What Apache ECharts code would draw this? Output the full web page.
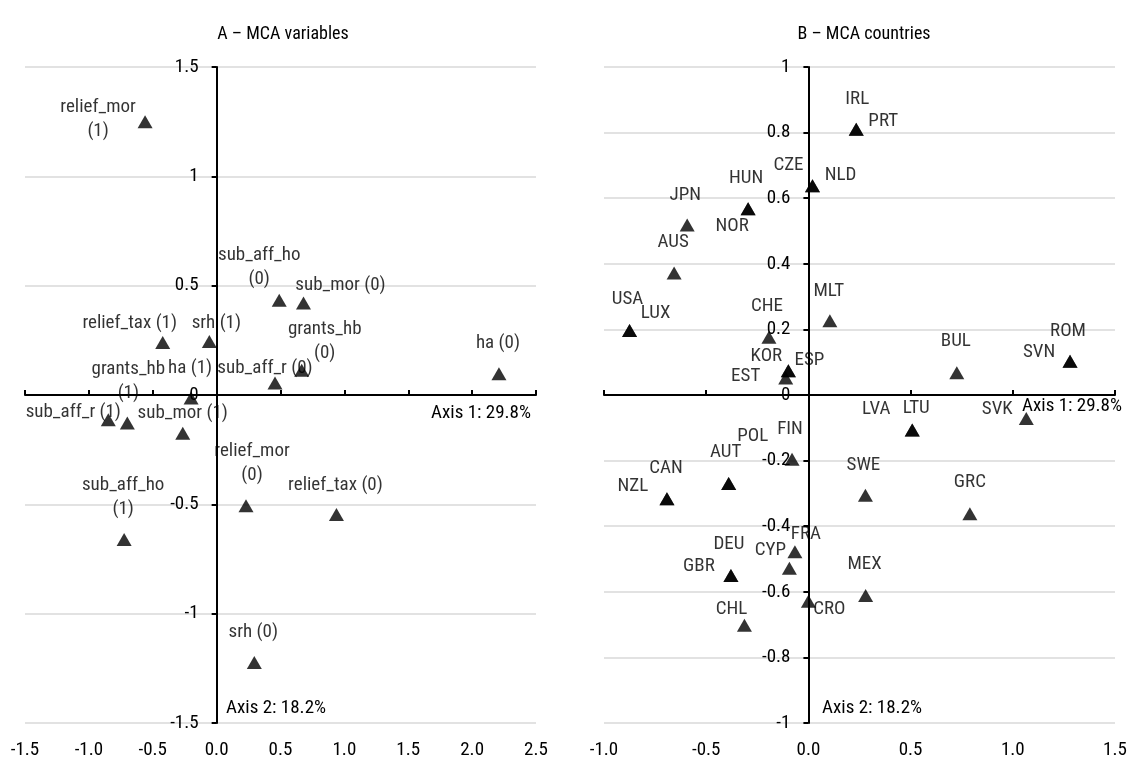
<!DOCTYPE html>
<html>
<head>
<meta charset="utf-8">
<script src="https://cdn.jsdelivr.net/npm/echarts@6/dist/echarts.min.js"></script>
<style>
html,body{margin:0;padding:0;background:#fff;}
#chart{width:1131px;height:758px;}
</style>
</head>
<body>
<div id="chart"></div>
<script>
// ---------- Panel A: MCA variables ----------
const varNames = ['relief_mor (1)','sub_aff_ho (0)','sub_mor (0)','srh (1)','relief_tax (1)','sub_aff_r (0)','grants_hb (0)','ha (0)','ha (1)','sub_aff_r (1)','grants_hb (1)','sub_mor (1)','relief_mor (0)','relief_tax (0)','sub_aff_ho (1)','srh (0)'];
const varAxis1 = [-0.56, 0.49, 0.68, -0.057, -0.422, 0.457, 0.666, 2.21, -0.2, -0.848, -0.699, -0.265, 0.23, 0.938, -0.724, 0.295];
const varAxis2 = [1.25, 0.433, 0.421, 0.245, 0.24, 0.055, 0.113, 0.097, -0.014, -0.113, -0.128, -0.175, -0.506, -0.547, -0.661, -1.223];

// ---------- Panel B: MCA countries ----------
const countryNames = ['IRL','PRT','CZE','NLD','HUN','NOR','JPN','AUS','USA','LUX','CHE','MLT','KOR','ESP','EST','BUL','ROM','SVN','SVK','LVA','LTU','FIN','POL','AUT','CAN','NZL','SWE','GRC','FRA','CYP','DEU','GBR','MEX','CRO','CHL'];
const countryAxis1 = [0.234, 0.234, 0.02, 0.02, -0.295, -0.295, -0.593, -0.657, -0.875, -0.875, -0.193, 0.105, -0.098, -0.098, -0.111, 0.726, 1.28, 1.28, 1.066, 0.508, 0.508, -0.08, -0.39, -0.39, -0.692, -0.692, 0.279, 0.79, -0.066, -0.093, -0.379, -0.379, 0.28, 0.0, -0.313];
const countryAxis2 = [0.81, 0.81, 0.638, 0.638, 0.568, 0.568, 0.518, 0.372, 0.197, 0.197, 0.176, 0.226, 0.074, 0.074, 0.052, 0.068, 0.103, 0.103, -0.072, -0.107, -0.107, -0.196, -0.27, -0.27, -0.316, -0.316, -0.306, -0.362, -0.478, -0.528, -0.55, -0.55, -0.611, -0.629, -0.702];

// ---------- Tick labels ----------
const xTicksA = ['-1.5','-1.0','-0.5','0.0','0.5','1.0','1.5','2.0','2.5'];
const yTicksA = ['-1.5','-1','-0.5','0','0.5','1','1.5'];
const xTicksB = ['-1.0','-0.5','0.0','0.5','1.0','1.5'];
const yTicksB = ['-1','-0.8','-0.6','-0.4','-0.2','0','0.2','0.4','0.6','0.8','1'];

const titles = ['A – MCA variables', 'B – MCA countries'];
const axis1Label = 'Axis 1: 29.8%';
const axis2Label = 'Axis 2: 18.2%';

// ---------- label placement (style) ----------
const varLabelOffset = {
  'relief_mor (1)': [-47,-2], 'sub_aff_ho (0)': [-20,-33], 'sub_mor (0)': [37,-18], 'srh (1)': [7,-18],
  'relief_tax (1)': [-33,-19], 'sub_aff_r (0)': [-10,-15], 'grants_hb (0)': [23,-29], 'ha (0)': [-1,-31],
  'ha (1)': [-1,-30], 'sub_aff_r (1)': [-35,-7], 'grants_hb (1)': [1,-42], 'sub_mor (1)': [0,-20],
  'relief_mor (0)': [6,-42], 'relief_tax (0)': [-1,-29], 'sub_aff_ho (1)': [-1,-42], 'srh (0)': [-1,-30]
};
const wrapped = ['relief_mor (1)','sub_aff_ho (0)','grants_hb (0)','grants_hb (1)','relief_mor (0)','sub_aff_ho (1)'];
const countryLabelOffset = {
  IRL:[1,-30], PRT:[27,-8], CZE:[-24,-20], NLD:[28,-10], HUN:[-2,-30], NOR:[-16,18], JPN:[-2,-30], AUS:[-1,-31],
  USA:[-2,-31], LUX:[26,-17], CHE:[-2,-31], MLT:[-1,-30], KOR:[-22,-14], ESP:[21,-10], EST:[-40,-2], BUL:[-1,-31],
  ROM:[-2,-30], SVN:[-31,-9], SVK:[-29,-9], LVA:[-36,-21], LTU:[4,-22], FIN:[-2,-30], POL:[24,-47], AUT:[-3,-31],
  CAN:[-1,-30], NZL:[-34,-12], SWE:[-2,-30], GRC:[0,-31], FRA:[11,-18], CYP:[-19,-18], DEU:[-2,-31], GBR:[-32,-9],
  MEX:[-1,-31], CRO:[21,8], CHL:[-13,-16]
};

const FONT = "'Roboto Condensed', 'Liberation Sans Narrow', 'Arial Narrow', Roboto, sans-serif";
const FSTYLE = 'condensed';
const FS = 19;
const FS_TITLE = 18;
const TXT = '#000';
const GRID_W = 511, GRID_H = 656;

function tickFmt(arr, min, step) {
  return function (v) { const i = Math.round((v - min) / step); return arr[i] !== undefined ? arr[i] : ''; };
}

const varData = varNames.map((n, i) => ({
  name: n, value: [varAxis1[i], varAxis2[i]],
  label: { offset: varLabelOffset[n] }
}));
const countryData = countryNames.map((n, i) => ({
  name: n, value: [countryAxis1[i], countryAxis2[i]],
  label: { offset: countryLabelOffset[n] }
}));

function zeroXAxis(gridIndex, min, max, step) {
  return {
    type: 'value', gridIndex, min, max, interval: step, position: 'bottom',
    axisLine: { onZero: true, lineStyle: { color: '#000', width: 2 } },
    axisTick: { show: true, inside: true, length: 5, lineStyle: { color: '#000', width: 2 } },
    axisLabel: { show: false }, splitLine: { show: false }
  };
}
function labelXAxis(gridIndex, min, max, step, arr) {
  return {
    type: 'value', gridIndex, min, max, interval: step, position: 'bottom',
    axisLine: { show: false, onZero: false }, axisTick: { show: false }, splitLine: { show: false },
    axisLabel: { show: true, margin: 18, fontFamily: FONT, fontStyle: FSTYLE, fontSize: FS, color: TXT, formatter: tickFmt(arr, min, step) }
  };
}
// y axis drawn through x = 0 of the matching x range
function yAxisDef(gridIndex, min, max, step, arr, xMin, xMax) {
  return {
    type: 'value', gridIndex, min, max, interval: step, position: 'left',
    offset: -((0 - xMin) / (xMax - xMin)) * GRID_W,
    axisLine: { show: true, onZero: false, lineStyle: { color: '#000', width: 2 } },
    axisTick: { show: true, inside: false, length: 5, lineStyle: { color: '#000', width: 2 } },
    axisLabel: { show: true, margin: 18, fontFamily: FONT, fontStyle: FSTYLE, fontSize: FS, color: TXT, formatter: tickFmt(arr, min, step) },
    splitLine: { show: true, lineStyle: { color: '#d9d9d9', width: 1.5 } }
  };
}

function scatter(xi, yi, data, isVar) {
  return {
    type: 'scatter', xAxisIndex: xi, yAxisIndex: yi, data,
    symbol: 'triangle', symbolSize: [15, 13],
    itemStyle: { color: '#000' },
    label: {
      show: true, position: 'inside', fontFamily: FONT, fontStyle: FSTYLE, fontSize: FS, color: TXT, lineHeight: 24,
      formatter: p => (isVar && wrapped.indexOf(p.name) >= 0) ? p.name.replace(' (', '\n(') : p.name
    },
    emphasis: { disabled: true }, silent: true, z: 5
  };
}

const chart = echarts.init(document.getElementById('chart'), null, { renderer: 'canvas' });
const tstyle = { fontFamily: FONT, fontStyle: FSTYLE, fontSize: FS_TITLE, fontWeight: 'normal', color: TXT };
const gfont = FSTYLE + ' ' + FS + 'px ' + FONT;
chart.setOption({
  animation: false,
  backgroundColor: '#fff',
  title: [
    { text: titles[0], left: 278, top: 20, textAlign: 'center', textStyle: tstyle },
    { text: titles[1], left: 859, top: 20, textAlign: 'center', textStyle: tstyle }
  ],
  grid: [
    { left: 25, top: 67, width: GRID_W, height: GRID_H, containLabel: false, outerBoundsMode: 'none' },
    { left: 604, top: 67, width: GRID_W, height: GRID_H, containLabel: false, outerBoundsMode: 'none' }
  ],
  xAxis: [
    zeroXAxis(0, -1.5, 2.5, 0.5), labelXAxis(0, -1.5, 2.5, 0.5, xTicksA),
    zeroXAxis(1, -1.0, 1.5, 0.5), labelXAxis(1, -1.0, 1.5, 0.5, xTicksB)
  ],
  yAxis: [
    yAxisDef(0, -1.5, 1.5, 0.5, yTicksA, -1.5, 2.5),
    yAxisDef(1, -1, 1, 0.2, yTicksB, -1.0, 1.5)
  ],
  series: [
    scatter(0, 0, varData, true),
    scatter(2, 1, countryData, false)
  ],
  graphic: [
    { type: 'text', x: 531, y: 413, style: { text: axis1Label, font: gfont, fill: TXT, align: 'right', verticalAlign: 'middle' } },
    { type: 'text', x: 226, y: 708, style: { text: axis2Label, font: gfont, fill: TXT, align: 'left', verticalAlign: 'middle' } },
    { type: 'text', x: 1122, y: 406, style: { text: axis1Label, font: gfont, fill: TXT, align: 'right', verticalAlign: 'middle' } },
    { type: 'text', x: 822, y: 708, style: { text: axis2Label, font: gfont, fill: TXT, align: 'left', verticalAlign: 'middle' } }
  ]
});
</script>
</body>
</html>
